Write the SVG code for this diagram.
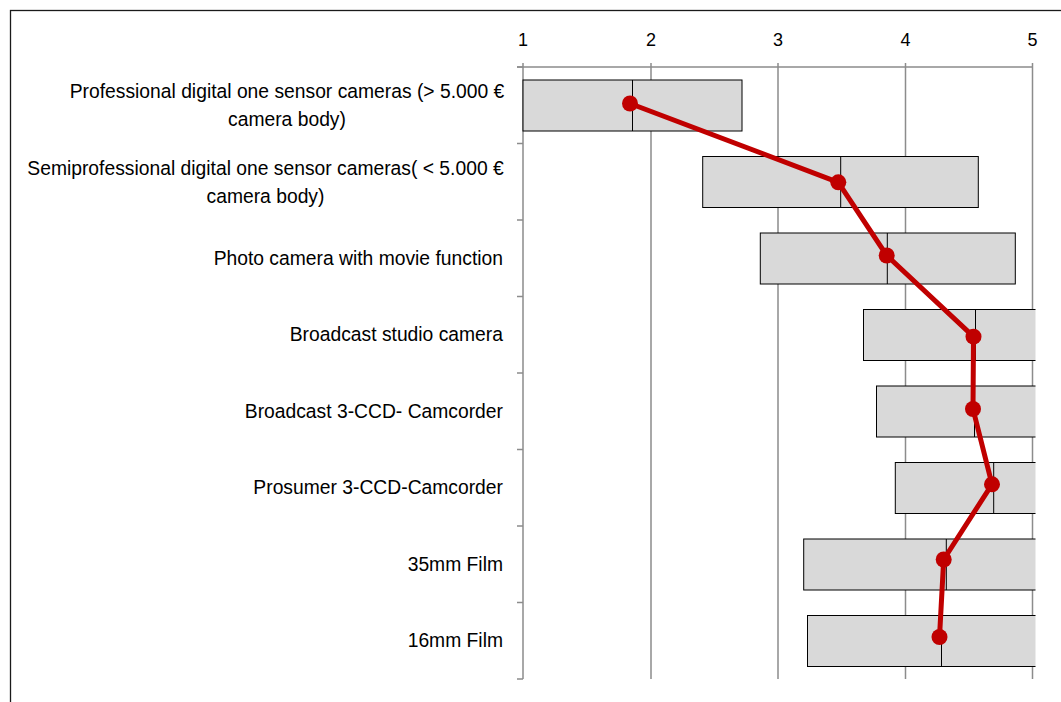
<svg xmlns="http://www.w3.org/2000/svg" width="1061" height="702" viewBox="0 0 1061 702">
<style>
.lbl{font-family:"Liberation Sans",Arial,sans-serif;font-size:19.3px;fill:#000}
.ax{font-family:"Liberation Sans",Arial,sans-serif;font-size:18px;fill:#000;text-anchor:middle}
.grid{stroke:#8c8c8c;stroke-width:1.5;fill:none}
.box{fill:#d9d9d9;stroke:#000;stroke-width:1}
.med{stroke:#000;stroke-width:1}
.dot{fill:#c00000}
</style>
<defs>
<clipPath id="plot"><rect x="515" y="60" width="520.5" height="625"/></clipPath>
</defs>
<rect x="0" y="0" width="1061" height="702" fill="#fff"/>
<rect x="10.5" y="10.5" width="1100" height="800" fill="none" stroke="#1a1a1a" stroke-width="1.3"/>
<g id="axes">
<path class="grid" d="M523 63V679M651 63V679M778 63V679M905.5 63V679M1032.5 63V679M517 67H1032.5"/>
<path class="grid" d="M517 67H523M517 143.5H523M517 220H523M517 296.5H523M517 373H523M517 449.5H523M517 526H523M517 602.5H523M517 679H523"/>
<text class="ax" x="523" y="46">1</text>
<text class="ax" x="651" y="46">2</text>
<text class="ax" x="778" y="46">3</text>
<text class="ax" x="905.5" y="46">4</text>
<text class="ax" x="1032.5" y="46">5</text>
</g>
<g id="labels">
<text class="lbl" text-anchor="middle" x="287" y="98">Professional digital one sensor cameras (&gt; 5.000 €</text>
<text class="lbl" text-anchor="middle" x="287" y="126">camera body)</text>
<text class="lbl" text-anchor="middle" x="265.5" y="174.5">Semiprofessional digital one sensor cameras( &lt; 5.000 €</text>
<text class="lbl" text-anchor="middle" x="265.5" y="202.5">camera body)</text>
<text class="lbl" text-anchor="end" x="503" y="264.5">Photo camera with movie function</text>
<text class="lbl" text-anchor="end" x="503" y="341">Broadcast studio camera</text>
<text class="lbl" text-anchor="end" x="503" y="417.5">Broadcast 3-CCD- Camcorder</text>
<text class="lbl" text-anchor="end" x="503" y="494">Prosumer 3-CCD-Camcorder</text>
<text class="lbl" text-anchor="end" x="503" y="570.5">35mm Film</text>
<text class="lbl" text-anchor="end" x="503" y="647">16mm Film</text>
</g>
<g id="boxes" clip-path="url(#plot)">
<g id="box1"><rect class="box" x="523" y="80" width="219" height="51"/><line class="med" x1="632.5" y1="80" x2="632.5" y2="131"/></g>
<g id="box2"><rect class="box" x="702.7" y="156.5" width="275.6" height="51"/><line class="med" x1="840.7" y1="156.5" x2="840.7" y2="207.5"/></g>
<g id="box3"><rect class="box" x="760.3" y="233" width="255" height="51"/><line class="med" x1="887.3" y1="233" x2="887.3" y2="284"/></g>
<g id="box4"><rect class="box" x="863.5" y="309.5" width="200" height="51"/><line class="med" x1="975.5" y1="309.5" x2="975.5" y2="360.5"/></g>
<g id="box5"><rect class="box" x="876.5" y="386" width="200" height="51"/><line class="med" x1="974.5" y1="386" x2="974.5" y2="437"/></g>
<g id="box6"><rect class="box" x="895.3" y="462.5" width="200" height="51"/><line class="med" x1="993.7" y1="462.5" x2="993.7" y2="513.5"/></g>
<g id="box7"><rect class="box" x="803.7" y="539" width="300" height="51"/><line class="med" x1="946.3" y1="539" x2="946.3" y2="590"/></g>
<g id="box8"><rect class="box" x="807.5" y="615.5" width="300" height="51"/><line class="med" x1="941.5" y1="615.5" x2="941.5" y2="666.5"/></g>
</g>
<g id="connectors">
<polyline points="630,103.5 838.3,182.3 886.7,255.5 973.5,336.7 973,409 992,484.3 943.7,559.5 939.5,637" fill="none" stroke="#c00000" stroke-width="5" stroke-linejoin="round"/>
</g>
<g id="points">
<circle class="dot" cx="630" cy="103.5" r="8"/>
<circle class="dot" cx="838.3" cy="182.3" r="8"/>
<circle class="dot" cx="886.7" cy="255.5" r="8"/>
<circle class="dot" cx="973.5" cy="336.7" r="8"/>
<circle class="dot" cx="973" cy="409" r="8"/>
<circle class="dot" cx="992" cy="484.3" r="8"/>
<circle class="dot" cx="943.7" cy="559.5" r="8"/>
<circle class="dot" cx="939.5" cy="637" r="8"/>
</g>
</svg>
